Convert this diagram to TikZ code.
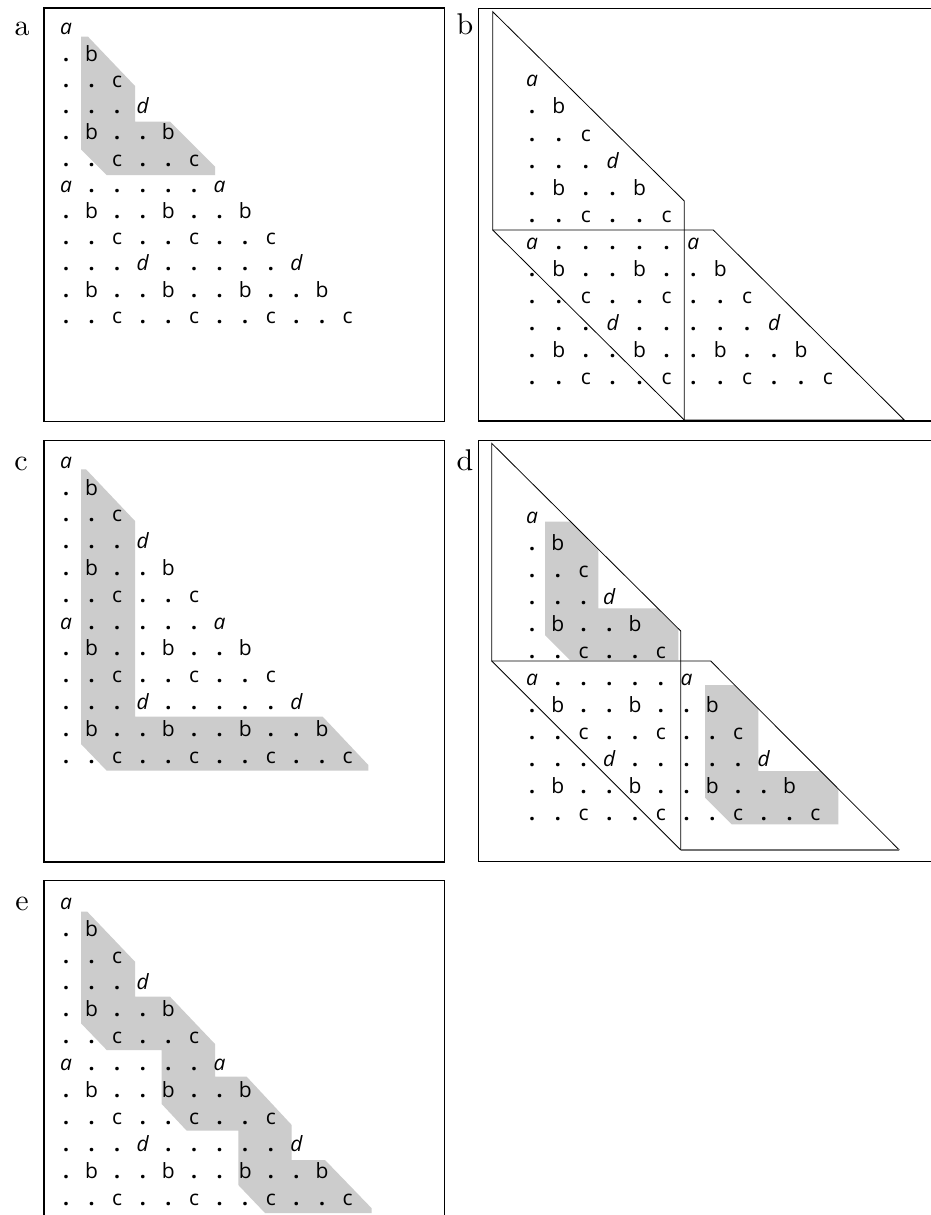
\documentclass[tikz,border=0pt]{standalone}
\usepackage{fontspec}
\newfontfamily\gridfont{Open Sans}
\newfontfamily\labfont{lmroman10-regular.otf}
\newcommand\gA{{\itshape a}}
\newcommand\gD{{\itshape d}}
\newcommand\gP{{\bfseries .}}
\definecolor{bandgray}{RGB}{204,204,204}
\tikzset{
  gl/.style={font=\gridfont\fontsize{21}{23}\selectfont, inner sep=0pt, anchor=base},
  plabel/.style={font=\labfont\fontsize{30}{34}\selectfont, inner sep=0pt, anchor=base},
  frame/.style={line width=1.2pt, black},
  fold/.style={line width=0.8pt, black, line join=miter},
  band/.style={fill=bandgray, draw=none},
}
% prefix, ox, oy, dx, dy
\newcommand\gridtext[5]{%
  \foreach \rowlist [count=\r from 0] in {{\gA},{\gP,b},{\gP,\gP,c},{\gP,\gP,\gP,\gD},{\gP,b,\gP,\gP,b},{\gP,\gP,c,\gP,\gP,c},{\gA,\gP,\gP,\gP,\gP,\gP,\gA},{\gP,b,\gP,\gP,b,\gP,\gP,b},{\gP,\gP,c,\gP,\gP,c,\gP,\gP,c},{\gP,\gP,\gP,\gD,\gP,\gP,\gP,\gP,\gP,\gD},{\gP,b,\gP,\gP,b,\gP,\gP,b,\gP,\gP,b},{\gP,\gP,c,\gP,\gP,c,\gP,\gP,c,\gP,\gP,c}}{%
    \foreach \ch [count=\j from 0] in \rowlist {%
      \node[gl] (#1-\r-\j) at ({#2+\j*#4},{#3+\r*#5}) {\ch};
    }%
  }%
}
\begin{document}
\begin{tikzpicture}[x=1pt,y=-1pt]
\useasboundingbox (0,0) rectangle (931,1215);
\fill[white] (0,0) rectangle (931,1215);

% ---------- gray bands ----------
% panel a
\fill[band] (81,36.7) -- (88,36.7) -- (135,86) -- (135,121.7) -- (170,121.7) -- (215,166.7) -- (215,175) -- (106.7,175) -- (81,149.3) -- cycle;
% panel c
\fill[band] (81,469.3) -- (86,469.3) -- (135,521) -- (135,716.7) -- (322.7,716.7) -- (368.3,765) -- (368.3,770.7) -- (106.7,770.7) -- (81,744) -- cycle;
% panel e
\fill[band] (81,911.7) -- (87.3,911.7) -- (135,961.7) -- (135,996.7) -- (170,996.7) -- (215,1044) -- (215,1076.7) -- (246.7,1076.7) -- (291.7,1125) -- (291.7,1160) -- (325,1160) -- (371.7,1208.3) -- (371.7,1213) -- (265,1213) -- (238.3,1185) -- (238.3,1130.7) -- (186.7,1130.7) -- (161.7,1104) -- (161.7,1050) -- (106.7,1050) -- (81,1023.3) -- cycle;
% panel d
\fill[band] (545,521.7) -- (570.3,521.7) -- (598.3,549.6) -- (598.3,608.3) -- (657.2,608.3) -- (678.3,629.3) -- (678.3,660) -- (570,660) -- (545,635) -- cycle;
\fill[band] (705,685) -- (734.7,685) -- (758.3,708.6) -- (758.3,771) -- (820.7,771) -- (838.3,788.6) -- (838.3,824.3) -- (731.7,824.3) -- (705,797.7) -- cycle;

% ---------- grid texts ----------
\gridtext{pa}{66}{35}{25.6}{26.2}
\gridtext{pb}{532}{86.8}{26.9}{27.1}
\gridtext{pc}{66}{468.2}{25.6}{26.8}
\gridtext{pd}{532}{523}{25.75}{27}
\gridtext{pe}{66}{909.2}{25.6}{26.9}

% ---------- folded triangles ----------
% panel b
\draw[fold] (492.7,230) -- (492.7,11.7) -- (684.3,201) -- (684.3,420);
\draw[fold] (492.7,230) -- (713.3,230) -- (904.3,420) -- (684.3,420);
\draw[fold] (492.7,230) -- (684.3,420);
% panel d
\draw[fold] (491.7,661) -- (491.7,443.3) -- (680.7,631) -- (680.7,850);
\draw[fold] (491.7,661) -- (710.7,661) -- (899.3,850);
\draw[fold] (491.7,661) -- (680.7,850);
\draw[line width=1.4pt, black!55] (680.7,850) -- (899.3,850);

% ---------- frames ----------
\draw[frame] (44,8) rectangle (444.7,421.7);
\draw[frame] (931,8.3) -- (478.3,8.3) -- (478.3,421) -- (931,421);
\draw[frame] (44,440.7) rectangle (444.7,862);
\draw[frame] (931,440.7) -- (478.3,440.7) -- (478.3,861.3) -- (931,861.3);
\draw[frame] (44,1215) -- (44,880.7) -- (444.7,880.7) -- (444.7,1215);

% ---------- panel labels ----------
\node[plabel] (la) at (22,36) {a};
\node[plabel] (lb) at (465,35) {b};
\node[plabel] (lc) at (21,470) {c};
\node[plabel] (ld) at (465,470) {d};
\node[plabel] (le) at (22,910) {e};
\end{tikzpicture}
\end{document}
